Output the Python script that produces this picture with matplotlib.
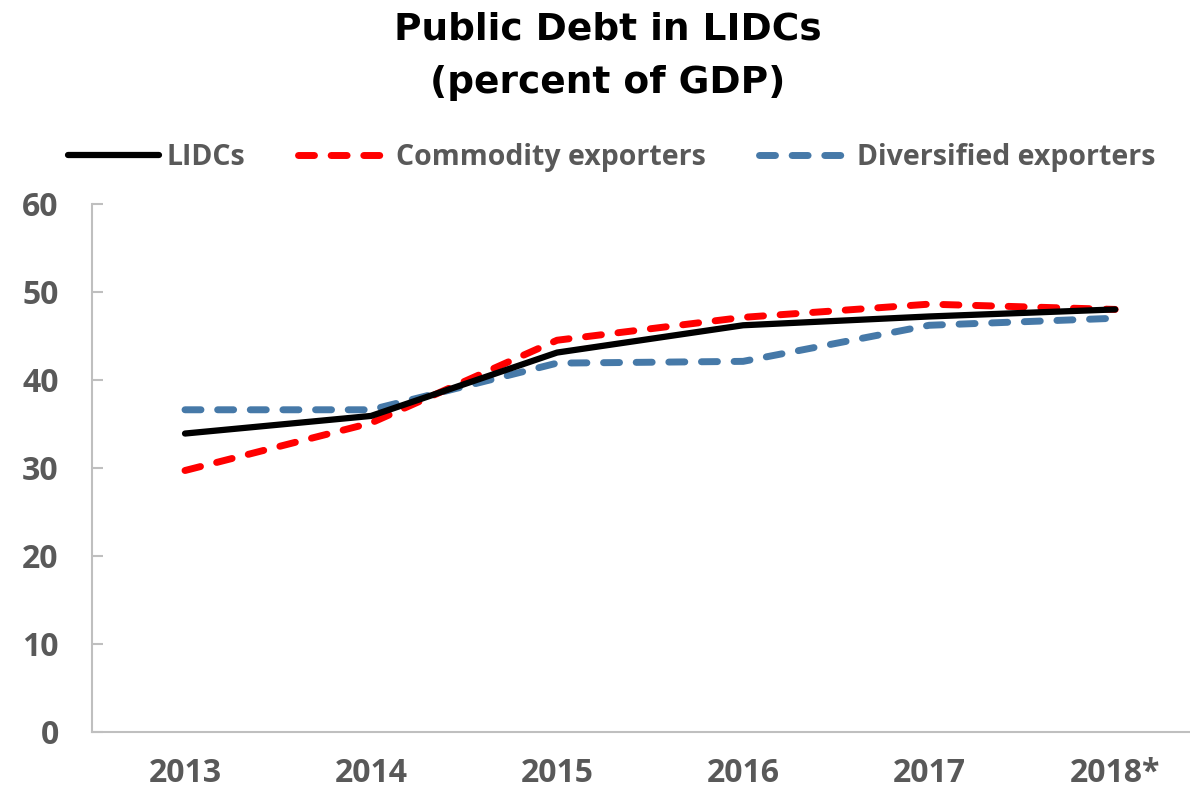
import numpy as np
import matplotlib
matplotlib.use("Agg")
import matplotlib.pyplot as plt

# datos
years = ["2013", "2014", "2015", "2016", "2017", "2018*"]
lidcs = [33.9, 35.9, 43.1, 46.2, 47.2, 48.0]
commodity = [29.7, 35.1, 44.5, 47.1, 48.6, 48.0]
diversified = [36.6, 36.6, 41.9, 42.1, 46.2, 47.0]

gray = "#595959"
x = np.arange(len(years))

fig = plt.figure(figsize=(11.9, 7.93), dpi=100)
ax = fig.add_axes([0.0773, 0.077, 0.938, 0.666])

ax.plot(x, diversified, color="#4679a8", lw=5, ls=(0, (2.3, 2.4)),
        dash_capstyle="round", label="Diversified exporters", zorder=2)
ax.plot(x, commodity, color="#ff0000", lw=5, ls=(0, (2.3, 2.4)),
        dash_capstyle="round", label="Commodity exporters", zorder=3)
ax.plot(x, lidcs, color="black", lw=4.5, solid_capstyle="round",
        label="LIDCs", zorder=4)

ax.set_xlim(-0.5, 5.5)
ax.set_ylim(0, 60)
ax.set_yticks(range(0, 61, 10))
ax.set_xticks(x)
ax.set_xticklabels(years)

for s in ["top", "right"]:
    ax.spines[s].set_visible(False)
for s in ["left", "bottom"]:
    ax.spines[s].set_color("#bfbfbf")
    ax.spines[s].set_linewidth(1.5)

ax.tick_params(axis="both", labelsize=23, labelcolor=gray)
ax.tick_params(axis="x", length=0, pad=18)
ax.tick_params(axis="y", direction="in", length=8, width=1.5,
               color="#bfbfbf", pad=24)
for lab in ax.get_xticklabels() + ax.get_yticklabels():
    lab.set_fontweight("bold")
    lab.set_family("Open Sans")

fig.text(0.511, 1 - 40 / 793, "Public Debt in LIDCs", ha="center",
         va="baseline", fontsize=27, fontweight="bold")
fig.text(0.511, 1 - 93 / 793, "(percent of GDP)", ha="center",
         va="baseline", fontsize=27, fontweight="bold")

h, l = ax.get_legend_handles_labels()
order = [2, 1, 0]
leg = fig.legend([h[i] for i in order], [l[i] for i in order], ncol=3,
                 loc="center", bbox_to_anchor=(0.514, 0.802), frameon=False,
                 handlelength=3.2, handletextpad=0.25, columnspacing=1.85,
                 prop={"family": "Open Sans", "weight": "bold", "size": 20.5})
for t in leg.get_texts():
    t.set_color(gray)

fig.savefig("out.png", dpi=100)
